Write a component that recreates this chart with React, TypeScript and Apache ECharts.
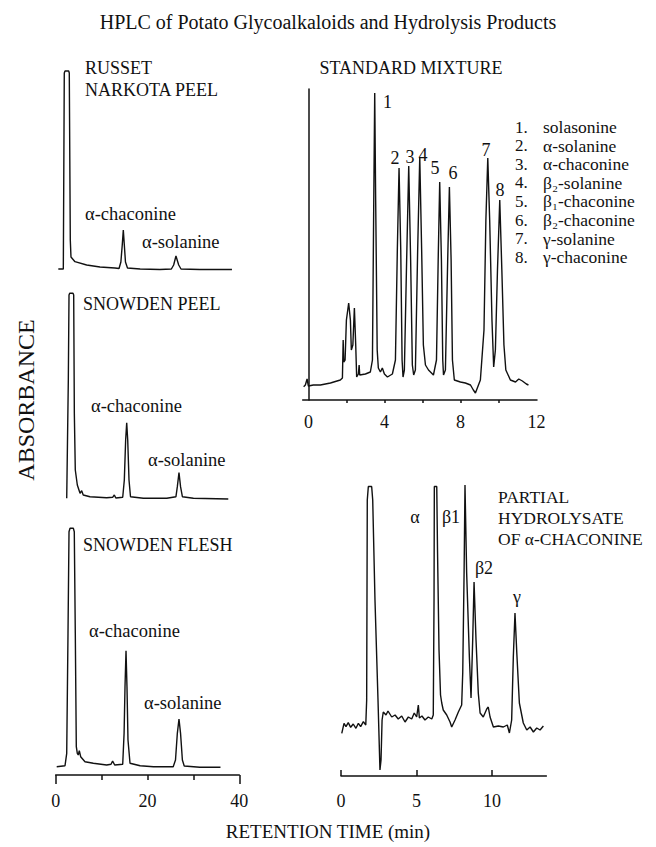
import React, { useEffect, useRef } from 'react';
import * as echarts from 'echarts';

// ---------- data (retention time [min], relative absorbance) ----------
const russetPeel: [number, number][] = [
  [0.57, 2], [1.66, 2], [1.87, 198], [2.03, 200], [2.83, 200], [2.96, 198], [3.18, 31], [3.33, 14],
  [4.2, 9.3], [6.75, 6], [9.65, 4], [12.9, 3], [13.8, 2.5], [14.2, 9], [14.5, 26], [14.73, 41],
  [14.95, 26], [15.2, 9], [15.64, 3], [18.4, 2], [22.7, 1.5], [25.2, 2], [25.7, 6], [26.2, 15],
  [26.8, 6], [27.3, 2], [31.4, 1.5], [38.4, 1.5],
];

const snowdenPeel: [number, number][] = [
  [2.4, 1.7], [2.75, 120], [2.9, 205], [3.05, 206.7], [3.77, 206.7], [3.92, 205], [4.06, 86.7],
  [4.27, 30], [4.71, 15], [5.3, 6.7], [5.66, 9.3], [6.0, 5], [7.47, 3.3], [11.1, 2.3], [12.4, 2.7],
  [12.77, 5], [13.1, 2], [14.6, 2.7], [14.95, 20], [15.24, 60], [15.47, 77.3], [15.69, 60],
  [15.97, 20], [16.3, 3.3], [19.1, 1.7], [24.2, 1.7], [26.2, 3.3], [26.5, 13.3], [26.86, 27.3],
  [27.2, 13.3], [27.6, 3.3], [30, 1.7], [37.6, 1],
];

const snowdenFlesh: [number, number][] = [
  [0.22, 8.3], [2.03, 9.3], [2.4, 21.7], [2.68, 141.7], [2.9, 243.3], [3.12, 246.7], [3.84, 246.7],
  [4.05, 243.3], [4.27, 141.7], [4.49, 28.3], [4.71, 21.7], [4.92, 20], [5.14, 24.3], [5.44, 18.3],
  [6.38, 13.3], [8.2, 11.7], [11.1, 10], [12.05, 10.7], [12.4, 14], [12.85, 10], [14.6, 10.7],
  [14.9, 41.7], [15.1, 88.3], [15.32, 124.3], [15.53, 88.3], [15.75, 35], [16.19, 11.7], [18.4, 9.3],
  [21.3, 8.3], [25.6, 8.3], [26.1, 15], [26.5, 41.7], [26.86, 56], [27.2, 41.7], [27.6, 15],
  [28, 9], [31.4, 7.7], [35.9, 7.7],
];

const standardMixture: [number, number][] = [
  [-0.25, 13.3], [-0.16, 15], [-0.07, 21], [0, 14], [0.26, 15], [0.63, 15], [1.16, 17], [1.68, 20],
  [1.79, 22], [1.83, 60], [1.86, 38], [1.93, 40], [2.0, 80], [2.12, 97], [2.21, 80], [2.26, 50],
  [2.34, 55], [2.42, 92], [2.49, 55], [2.54, 23], [2.63, 26], [2.67, 35], [2.7, 25], [3.0, 26],
  [3.26, 28], [3.37, 40], [3.44, 200], [3.49, 307], [3.54, 200], [3.62, 50], [3.68, 32], [3.79, 28],
  [3.89, 32], [4.0, 26], [4.16, 23], [4.42, 26], [4.58, 40], [4.68, 150], [4.77, 232], [4.86, 150],
  [4.93, 40], [4.98, 23], [5.05, 30], [5.17, 140], [5.28, 234], [5.38, 140], [5.47, 35], [5.54, 25],
  [5.63, 30], [5.75, 150], [5.86, 243], [5.96, 150], [6.05, 55], [6.16, 35], [6.32, 30], [6.58, 25],
  [6.74, 40], [6.83, 140], [6.91, 218], [7.0, 140], [7.07, 40], [7.11, 25], [7.21, 30], [7.33, 140],
  [7.42, 213], [7.51, 140], [7.58, 40], [7.68, 20], [8.0, 18], [8.26, 17], [8.53, 15], [8.68, 10],
  [8.79, 7], [8.89, 12], [9.05, 20], [9.24, 70], [9.34, 180], [9.44, 242], [9.54, 180], [9.66, 80],
  [9.75, 33], [9.84, 50], [9.95, 130], [10.07, 200], [10.18, 130], [10.29, 55], [10.39, 30],
  [10.63, 20], [10.9, 18], [11.07, 21], [11.26, 19], [11.47, 16], [11.58, 15],
];

const partialHydrolysate: [number, number][] = [
  [0.05, 42.7], [0.2, 52.7], [0.33, 49.3], [0.48, 53.3], [0.64, 48.7], [0.81, 52], [0.99, 47.7],
  [1.15, 52.7], [1.3, 49.3], [1.48, 54.3], [1.64, 51], [1.7, 76], [1.74, 276], [1.81, 289.5],
  [2.03, 289.5], [2.1, 276], [2.25, 176], [2.45, 76], [2.58, 6], [2.65, 16], [2.72, 56], [2.8, 64],
  [2.98, 61], [3.11, 65], [3.36, 59], [3.58, 61], [3.79, 57], [4.02, 60], [4.24, 54], [4.46, 59],
  [4.68, 57], [4.85, 63], [5.01, 59], [5.12, 71], [5.19, 58], [5.36, 60], [5.56, 56], [5.78, 59],
  [6.01, 57], [6.11, 61], [6.16, 176], [6.18, 289.5], [6.34, 289.5], [6.39, 226], [6.49, 126],
  [6.59, 81], [6.67, 73], [6.77, 66], [7.0, 61], [7.22, 54], [7.33, 49], [7.55, 56], [7.77, 64],
  [7.99, 71], [8.06, 103], [8.15, 203], [8.21, 291], [8.32, 203], [8.5, 119], [8.61, 78],
  [8.72, 136], [8.81, 194], [8.94, 136], [9.09, 83], [9.21, 63], [9.42, 59], [9.65, 67], [9.75, 69],
  [9.87, 59], [10.09, 49], [10.42, 50], [10.75, 49], [11.01, 51], [11.15, 43], [11.3, 56],
  [11.41, 119], [11.52, 163], [11.64, 123], [11.81, 73], [12.07, 53], [12.3, 46], [12.52, 49],
  [12.74, 44], [12.96, 48], [13.18, 46], [13.4, 50],
];

// ---------- axis ticks / labels ----------
const leftInnerTicks = [10, 20, 30];
const leftEndTicks = [0, 40];
const leftLabels = [0, 20, 40];
const stdTicks = [2, 4, 6, 8, 10];
const stdLabels = [0, 4, 8, 12];
const partTicks = [0, 5, 10];
const partLabels = [0, 5, 10];

// ---------- annotations ----------
const legendNumbers = ['1.', '2.', '3.', '4.', '5.', '6.', '7.', '8.'];
const legendNames = [
  'solasonine', 'α-solanine', 'α-chaconine', 'β₂-solanine',
  'β₁-chaconine', 'β₂-chaconine', 'γ-solanine', 'γ-chaconine',
];

const FONT = "'Liberation Serif', 'Times New Roman', Times, serif";
const INK = '#111';

function txt(text: string, x: number, y: number, size = 18, align = 'left', extra: any = {}) {
  return {
    type: 'text',
    x,
    y,
    silent: true,
    ...extra,
    style: {
      text,
      fontFamily: FONT,
      fontSize: size,
      fill: INK,
      textAlign: align,
      textVerticalAlign: 'middle',
      align,
      verticalAlign: 'middle',
    },
  };
}

function lineSeries(data: [number, number][], idx: number) {
  return {
    type: 'line',
    xAxisIndex: idx,
    yAxisIndex: idx,
    data,
    showSymbol: false,
    symbol: 'none',
    clip: false,
    lineStyle: { color: INK, width: 1.4 },
    silent: true,
  };
}

const axisLineStyle = { lineStyle: { color: INK, width: 1.5 } };

export default function App() {
  const ref = useRef<HTMLDivElement>(null);

  useEffect(() => {
    if (!ref.current) return;
    const chart = echarts.init(ref.current, undefined, { renderer: 'svg' });

    const labelStyle = { color: INK, fontFamily: FONT, fontSize: 18 };

    const option: any = {
      animation: false,
      backgroundColor: '#fff',
      grid: [
        { left: 55.7, top: 71, width: 183.6, height: 200 },
        { left: 55.7, top: 293, width: 183.6, height: 207 },
        { left: 55.7, top: 528, width: 183.6, height: 247 },
        { left: 302.7, top: 89, width: 234.3, height: 311 },
        { left: 341, top: 486, width: 205.4, height: 290 },
      ],
      xAxis: [
        { gridIndex: 0, type: 'value', min: 0, max: 40, show: false },
        { gridIndex: 1, type: 'value', min: 0, max: 40, show: false },
        {
          gridIndex: 2, type: 'value', min: 0, max: 40,
          splitLine: { show: false },
          axisLine: axisLineStyle,
          axisTick: { show: true, length: 5, customValues: leftInnerTicks, lineStyle: { color: INK, width: 1.5 } },
          axisLabel: { ...labelStyle, margin: 17, customValues: leftLabels },
        },
        {
          gridIndex: 3, type: 'value', min: -0.3, max: 12.03,
          splitLine: { show: false },
          axisLine: axisLineStyle,
          axisTick: { show: true, length: 3, customValues: stdTicks, lineStyle: { color: INK, width: 1.5 } },
          axisLabel: { ...labelStyle, margin: 13, customValues: stdLabels },
        },
        {
          gridIndex: 4, type: 'value', min: 0, max: 13.6,
          splitLine: { show: false },
          axisLine: axisLineStyle,
          axisTick: { show: true, inside: true, length: 6, customValues: partTicks, lineStyle: { color: INK, width: 1.5 } },
          axisLabel: { ...labelStyle, margin: 16, customValues: partLabels },
        },
        {
          gridIndex: 2, type: 'value', min: 0, max: 40, position: 'bottom',
          splitLine: { show: false },
          axisLine: { show: false },
          axisTick: { show: true, length: 9, customValues: leftEndTicks, lineStyle: { color: INK, width: 1.5 } },
          axisLabel: { show: false },
        },
      ],
      yAxis: [
        { gridIndex: 0, type: 'value', min: 0, max: 200, show: false },
        { gridIndex: 1, type: 'value', min: 0, max: 207, show: false },
        { gridIndex: 2, type: 'value', min: 0, max: 247, show: false },
        {
          gridIndex: 3, type: 'value', min: 0, max: 311,
          splitLine: { show: false },
          axisLine: { show: true, ...axisLineStyle },
          axisTick: { show: false },
          axisLabel: { show: false },
        },
        { gridIndex: 4, type: 'value', min: 0, max: 290, show: false },
      ],
      series: [
        lineSeries(russetPeel, 0),
        lineSeries(snowdenPeel, 1),
        lineSeries(snowdenFlesh, 2),
        lineSeries(standardMixture, 3),
        lineSeries(partialHydrolysate, 4),
      ],
      graphic: [
        txt('HPLC of Potato Glycoalkaloids and Hydrolysis Products', 328, 22, 20, 'center'),
        txt('ABSORBANCE', 26, 400, 24, 'center', { rotation: Math.PI / 2 }),
        txt('RETENTION TIME (min)', 328, 831, 19, 'center'),
        // left panels
        txt('RUSSET', 85, 68),
        txt('NARKOTA PEEL', 85, 90),
        txt('α-chaconine', 85, 214, 18.5),
        txt('α-solanine', 142, 242, 18.5),
        txt('SNOWDEN PEEL', 83, 304),
        txt('α-chaconine', 91, 406, 18.5),
        txt('α-solanine', 148, 460, 18.5),
        txt('SNOWDEN FLESH', 83, 545),
        txt('α-chaconine', 89, 631, 18.5),
        txt('α-solanine', 144, 703, 18.5),
        // standard mixture
        txt('STANDARD MIXTURE', 411, 68, 18, 'center'),
        txt('1', 383, 102),
        txt('2', 395, 158, 18, 'center'),
        txt('3', 410, 157, 18, 'center'),
        txt('4', 423, 155, 18, 'center'),
        txt('5', 435, 168, 18, 'center'),
        txt('6', 453, 173, 18, 'center'),
        txt('7', 486, 150, 18, 'center'),
        txt('8', 500, 190, 18, 'center'),
        ...legendNumbers.map((n, i) => txt(n, 515, 127 + 18.6 * i, 17)),
        ...legendNames.map((n, i) => txt(n, 543, 127 + 18.6 * i, 17.5)),
        // partial hydrolysate
        txt('PARTIAL', 498, 497, 17.5),
        txt('HYDROLYSATE', 498, 518, 17.5),
        txt('OF α-CHACONINE', 498, 539, 17.5),
        txt('α', 415, 517, 18, 'center'),
        txt('β1', 451, 517, 18, 'center'),
        txt('β2', 484, 568, 18, 'center'),
        txt('γ', 517, 597, 18, 'center'),
      ],
    };

    chart.setOption(option);
    return () => chart.dispose();
  }, []);

  return (
    <div
      ref={ref}
      style={{ position: 'absolute', left: 0, top: 0, width: 656, height: 847, background: '#fff' }}
    />
  );
}
